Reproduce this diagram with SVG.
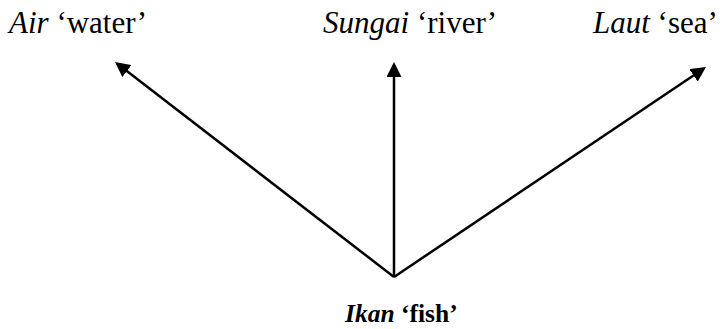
<svg xmlns="http://www.w3.org/2000/svg" width="720" height="329" viewBox="0 0 720 329">
  <style>
    .lbl { font-family: "Liberation Serif", "Times New Roman", serif; font-size: 31px; fill: #000; }
    .it { font-style: italic; }
    .root { font-family: "Liberation Serif", "Times New Roman", serif; font-size: 25.5px; font-weight: bold; fill: #000; }
    .edge { stroke: #000; stroke-width: 2.5; fill: none; marker-end: url(#head); }
  </style>
  <defs>
    <!-- filled triangular arrowhead, ~15px long and wide at stroke-width 2.5 -->
    <marker id="head" markerWidth="6" markerHeight="6" refX="4.8" refY="3" orient="auto" markerUnits="strokeWidth">
      <path d="M0,0 L6,3 L0,6 Z" fill="#000"/>
    </marker>
  </defs>
  <rect width="720" height="329" fill="#fff"/>
  <g id="connectors">
    <line class="edge" x1="394" y1="277" x2="117.4" y2="63.8"/>
    <line class="edge" x1="394" y1="277" x2="394" y2="65"/>
    <line class="edge" x1="394" y1="277" x2="703.5" y2="68.7"/>
  </g>
  <g id="node-air">
    <text class="lbl" x="9" y="33"><tspan class="it">Air</tspan> ‘water’</text>
  </g>
  <g id="node-sungai">
    <text class="lbl" x="323" y="33"><tspan class="it">Sungai</tspan> ‘river’</text>
  </g>
  <g id="node-laut">
    <text class="lbl" x="593" y="33"><tspan class="it">Laut</tspan> ‘sea’</text>
  </g>
  <g id="node-ikan">
    <text class="root" x="345" y="322"><tspan class="it">Ikan</tspan> ‘fish’</text>
  </g>
</svg>
